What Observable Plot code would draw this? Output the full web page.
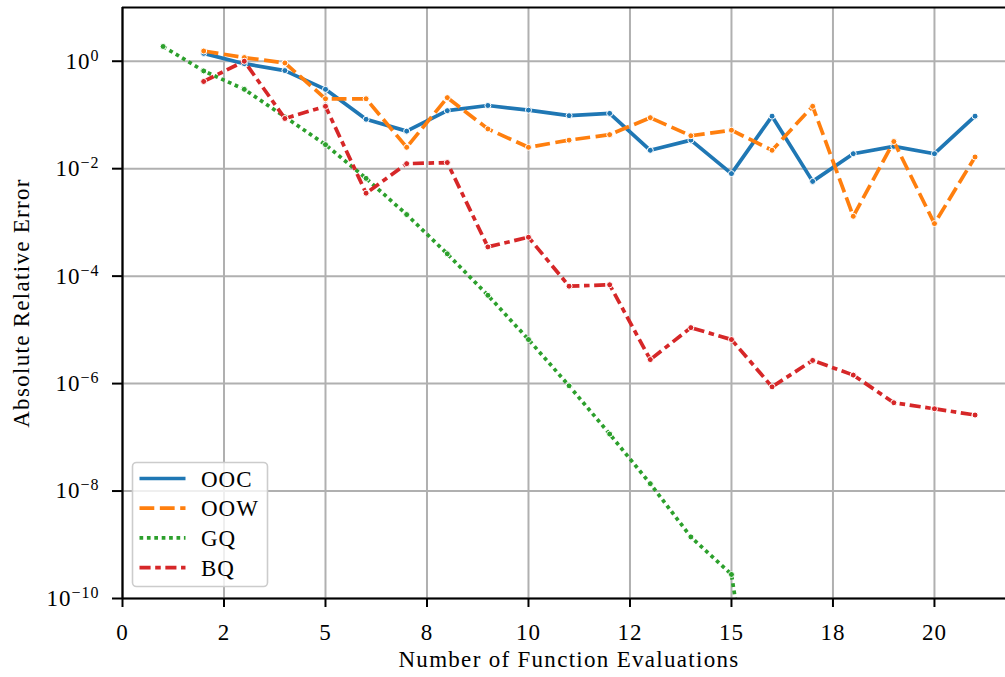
<!DOCTYPE html>
<html><head><meta charset="utf-8">
<script src="https://cdn.jsdelivr.net/npm/d3@7"></script>
<script src="https://cdn.jsdelivr.net/npm/@observablehq/plot@0.6"></script>
<style>body{margin:0;background:#fff}#chart{width:1005px;height:677px;overflow:hidden}</style>
</head><body><div id="chart"></div>
<script>
const seriesNames = ["OOC", "OOW", "GQ", "BQ"];
const seriesColors = ["#1f77b4", "#ff7f0e", "#2ca02c", "#d62728"];
const seriesDash = [null, "14.8,5.55", "3.7,3.7", "11.1,4.6,5.55,4.6"];

const xOOC = [2,3,4,5,6,7,8,9,10,11,12,13,14,15,16,17,18,19,20,21];
const yOOC = [1.4,0.9,0.67,0.30,0.083,0.050,0.12,0.15,0.123,0.097,0.107,0.022,0.034,0.0081,0.095,0.0058,0.019,0.026,0.019,0.095];
const xOOW = [2,3,4,5,6,7,8,9,10,11,12,13,14,15,16,17,18,19,20,21];
const yOOW = [1.55,1.17,0.93,0.20,0.20,0.025,0.21,0.055,0.025,0.034,0.043,0.089,0.041,0.052,0.022,0.145,0.0013,0.032,0.00095,0.0165];
const xGQ = [1,2,3,4,5,6,7,8,9,10,11,12,13,14,15,16];
const yGQ = [1.88,0.66,0.30,0.092,0.028,0.0066,0.0014,2.6e-4,4.4e-5,6.6e-6,9.1e-7,1.15e-7,1.37e-8,1.4e-9,2.8e-10,4e-15];
const xBQ = [2,3,4,5,6,7,8,9,10,11,12,13,14,15,16,17,18,19,20,21];
const yBQ = [0.42,1.0,0.086,0.145,0.0035,0.0124,0.0130,3.5e-4,5.3e-4,6.5e-5,6.9e-5,2.8e-6,1.1e-5,6.6e-6,8.7e-7,2.7e-6,1.44e-6,4.4e-7,3.4e-7,2.6e-7];

const xTicks = [0,2.5,5,7.5,10,12.5,15,17.5,20];
const xTickLabels = ["0","2","5","8","10","12","15","18","20"];
const yTicks = [1e-10,1e-8,1e-6,1e-4,1e-2,1e0];
const xLabel = "Number of Function Evaluations";
const yLabel = "Absolute Relative Error";

const xs = [xOOC, xOOW, xGQ, xBQ];
const ys = [yOOC, yOOW, yGQ, yBQ];
const seriesData = seriesNames.map((name, s) => xs[s].map((x, i) => ({series: name, x, y: ys[s][i]})));

const FONT = "'Liberation Serif', 'DejaVu Serif', serif";
const FS = 23;
const LW = 3.7;

const marks = [
  Plot.gridX(xTicks, {stroke: "#b0b0b0", strokeOpacity: 1, strokeWidth: 2}),
  Plot.gridY(yTicks, {stroke: "#b0b0b0", strokeOpacity: 1, strokeWidth: 2})
];
seriesData.forEach((data, s) => {
  marks.push(Plot.line(data, {x: "x", y: "y", stroke: seriesColors[s], strokeWidth: LW,
    strokeDasharray: seriesDash[s] || undefined, strokeLinecap: seriesDash[s] ? "butt" : "round",
    strokeLinejoin: "round", clip: true}));
  marks.push(Plot.dot(data, {x: "x", y: "y", fill: seriesColors[s], stroke: "white", strokeWidth: 1, r: 3, clip: true}));
});
marks.push(
  Plot.ruleX([0], {stroke: "black", strokeWidth: 2.2}),
  Plot.ruleY([1e-10], {stroke: "black", strokeWidth: 2.2}),
  Plot.ruleY([1e1], {stroke: "black", strokeWidth: 2.2}),
  Plot.axisX(xTicks, {tickFormat: d => xTickLabels[xTicks.indexOf(d)], tickSize: 9, tickPadding: 16,
    fontSize: FS, strokeWidth: 2, label: null}),
  Plot.axisY(yTicks, {tickFormat: d => "10^" + Math.round(Math.log10(d)), tickSize: 10, tickPadding: 13,
    fontSize: FS, strokeWidth: 2, label: null}),
  Plot.text([xLabel], {text: d => d, frameAnchor: "bottom", dy: 68, dx: 5, fontSize: FS, fill: "black"}),
  Plot.text([yLabel], {text: d => d, frameAnchor: "left", textAnchor: "middle", dx: -101, rotate: -90, fontSize: FS, fill: "black"})
);

const svg = Plot.plot({
  width: 1005, height: 677,
  marginLeft: 122, marginTop: 7, marginBottom: 79, marginRight: 0,
  style: {fontFamily: FONT, fontSize: FS + "px", background: "white", color: "black", overflow: "visible"},
  x: {domain: [0, 21.75]},
  y: {type: "log", domain: [1e-10, 10]},
  marks
});
document.getElementById("chart").appendChild(svg);

// wider letter spacing to approximate the reference serif face
d3.select(svg).selectAll('g[aria-label="text"] text').attr("letter-spacing", "1.3px");
d3.select(svg).selectAll('g[aria-label="x-axis tick label"] text').attr("letter-spacing", "1px");

// superscript exponents on y tick labels
d3.select(svg).selectAll('g[aria-label="y-axis tick label"] text').each(function() {
  const t = d3.select(this);
  const s = t.text();
  const exp = s.split("^")[1].replace("-", "\u2212");
  t.text(null).attr("letter-spacing", "1px");
  t.append("tspan").text("10");
  t.append("tspan").attr("dy", "-8").attr("font-size", "16px").text(exp);
});

// legend
const lg = d3.select(svg).append("g").attr("font-family", FONT).attr("font-size", FS).attr("text-anchor", "start");
lg.append("rect").attr("x", 132.5).attr("y", 462.5).attr("width", 135).attr("height", 124)
  .attr("rx", 4).attr("fill", "white").attr("fill-opacity", 0.8).attr("stroke", "#cccccc").attr("stroke-width", 1.6);
seriesNames.forEach((name, s) => {
  const cy = 478.5 + s * 29.7;
  lg.append("line").attr("x1", 139.5).attr("x2", 185.5).attr("y1", cy).attr("y2", cy)
    .attr("stroke", seriesColors[s]).attr("stroke-width", LW)
    .attr("stroke-dasharray", seriesDash[s]).attr("stroke-linecap", "butt");
  lg.append("text").attr("x", 201).attr("y", cy).attr("dy", "0.35em").attr("fill", "black")
    .attr("letter-spacing", "1px").text(name);
});
</script>
</body></html>
